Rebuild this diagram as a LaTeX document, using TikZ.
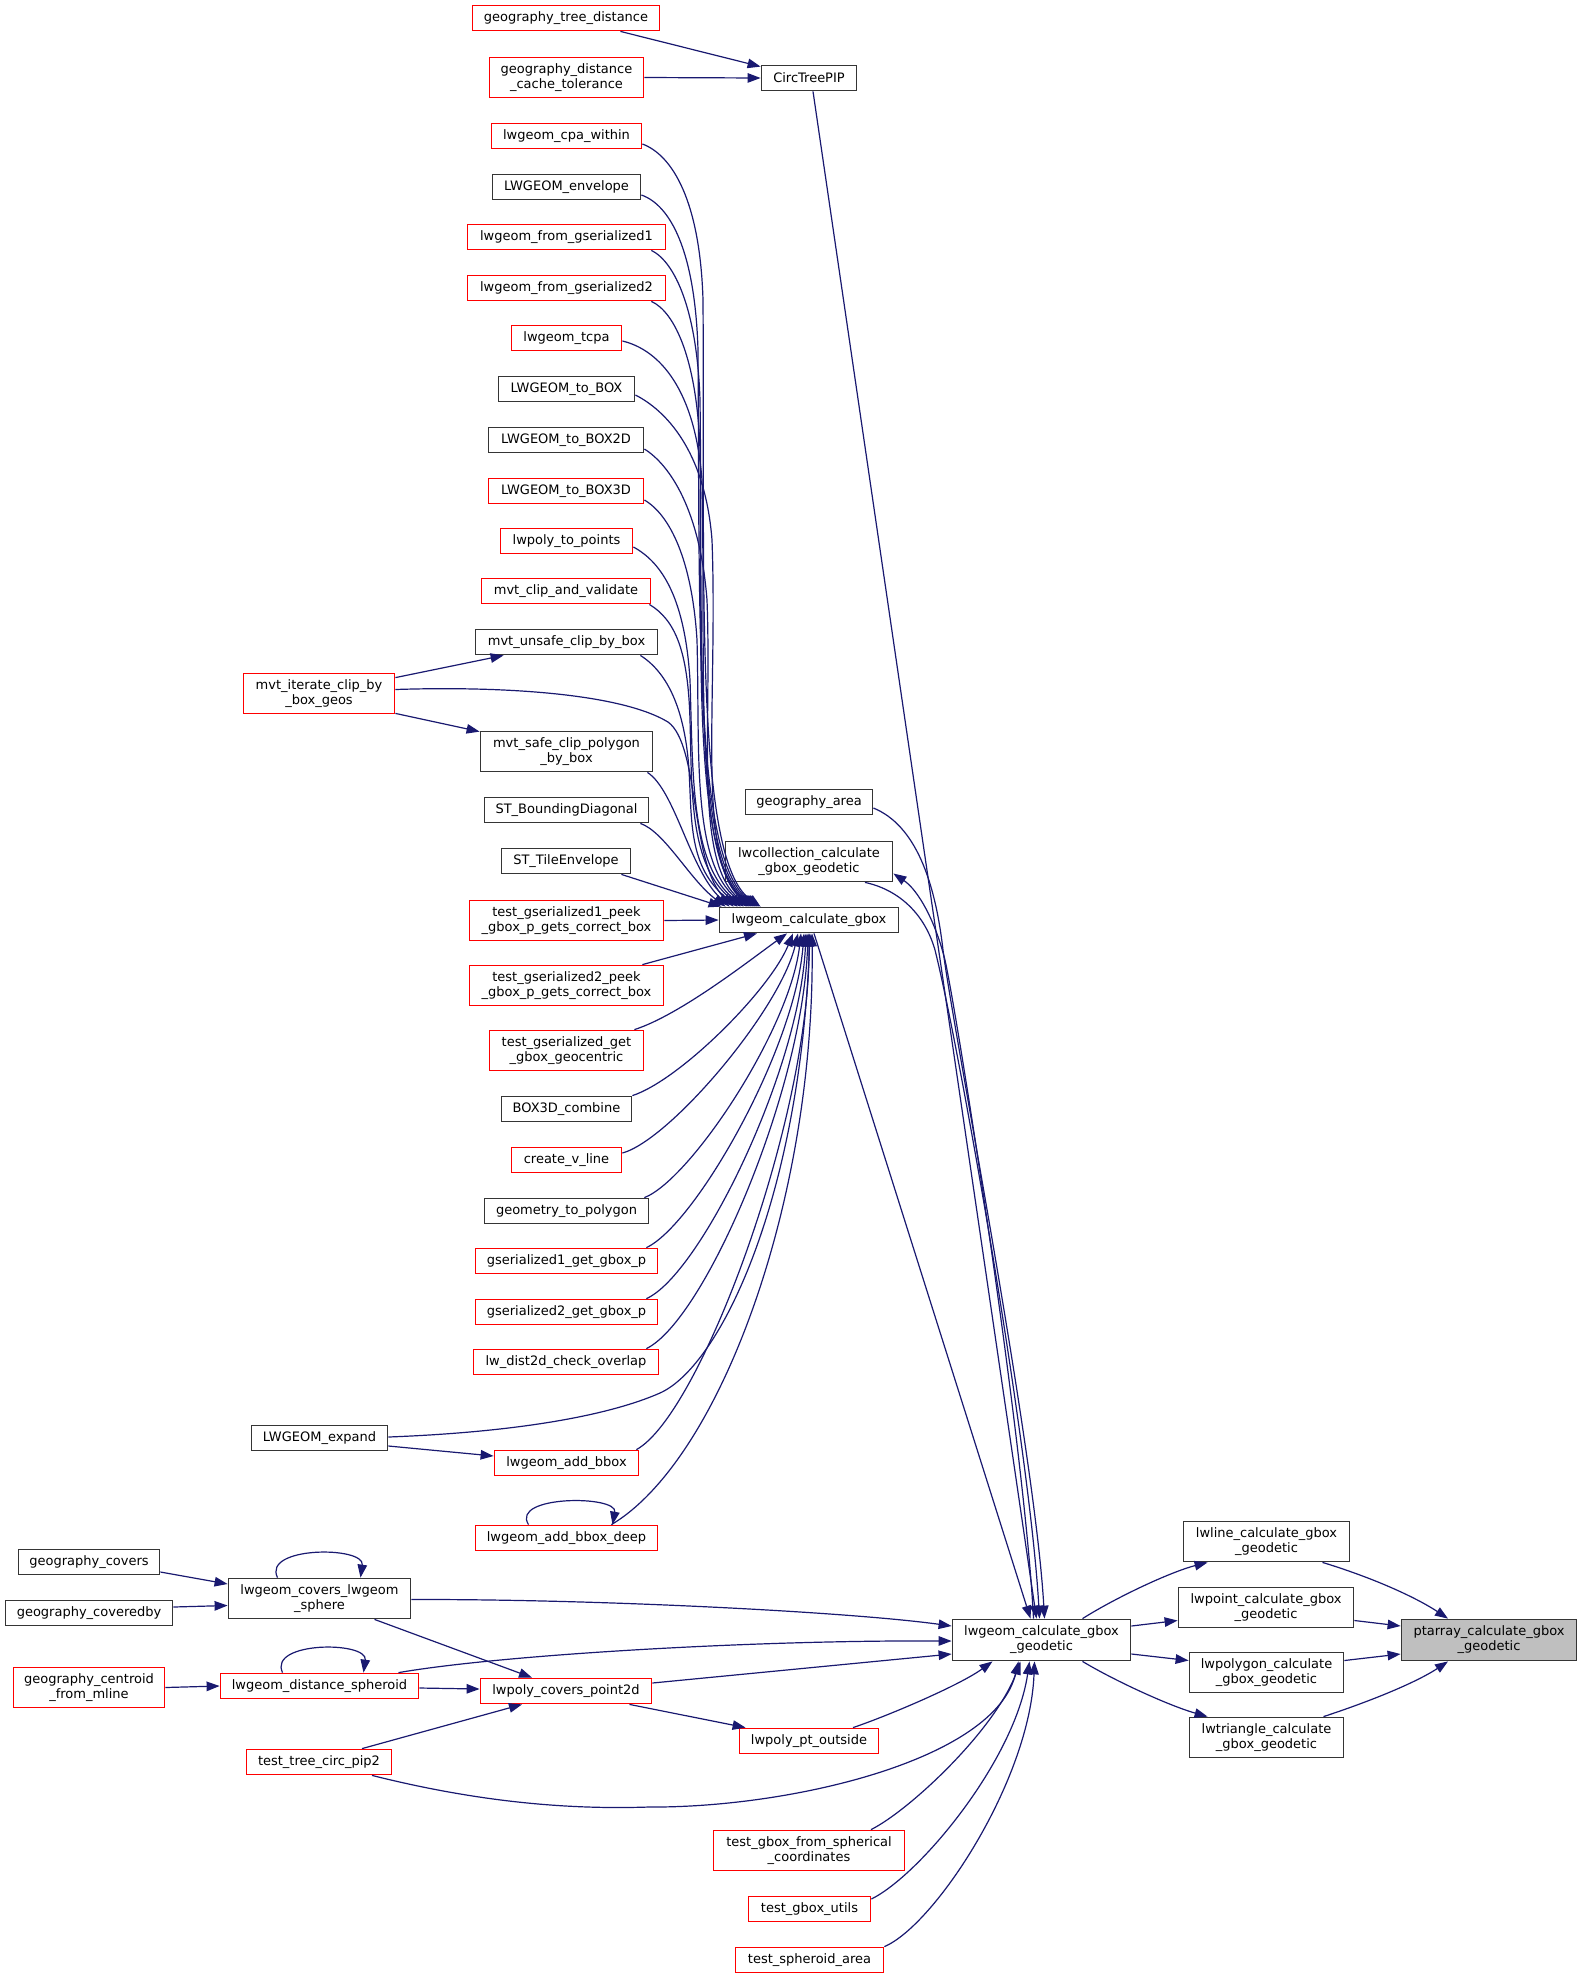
\documentclass[tikz,border=0pt]{standalone}
\usepackage{fontspec}
\setmainfont{DejaVu Sans}
\usetikzlibrary{arrows.meta}
\definecolor{navyc}{HTML}{191970}
\definecolor{bordg}{HTML}{353535}
\definecolor{fillg}{HTML}{BFBFBF}
\definecolor{redb}{HTML}{FF0000}
\newcommand\nodefont{\fontsize{13}{15}\selectfont}
\tikzset{
  box/.style={rectangle, fill=white, line width=1.8pt, inner sep=0pt, align=center, font=\nodefont},
  rb/.style={box, draw=redb},
  bb/.style={box, draw=bordg},
  gb/.style={box, draw=bordg, fill=fillg},
  sz/.style 2 args={minimum width=#1pt, minimum height=#2pt},
  edge/.style={draw=navyc, line width=1.2pt, -{Triangle[length=13pt,width=9.5pt]}}
}
\begin{document}
\begin{tikzpicture}[x=1pt,y=-1pt]
\fill[white] (0,0) rectangle (1581,1979);
\useasboundingbox (0,0) rectangle (1581,1979);
% column nodes
\node[rb,sz={187}{25}] (gtd) at (566,18) {geography\_tree\_distance};
\node[rb,sz={154}{40}] (gdct) at (566.5,77.5) {geography\_distance\\\_cache\_tolerance};
\node[bb,sz={95}{25}] (circ) at (809,78) {CircTreePIP};
\node[rb,sz={150}{25}] (cpa) at (566.5,136) {lwgeom\_cpa\_within};
\node[bb,sz={148}{25}] (env) at (566.5,187) {LWGEOM\_envelope};
\node[rb,sz={198}{25}] (fg1) at (566.5,237) {lwgeom\_from\_gserialized1};
\node[rb,sz={198}{25}] (fg2) at (566.5,288) {lwgeom\_from\_gserialized2};
\node[rb,sz={110}{25}] (tcpa) at (566.5,338) {lwgeom\_tcpa};
\node[bb,sz={136}{25}] (tobox) at (566.5,389) {LWGEOM\_to\_BOX};
\node[bb,sz={155}{25}] (tobox2d) at (566,440) {LWGEOM\_to\_BOX2D};
\node[rb,sz={155}{25}] (tobox3d) at (566,491) {LWGEOM\_to\_BOX3D};
\node[rb,sz={132}{25}] (topoints) at (566.5,541) {lwpoly\_to\_points};
\node[rb,sz={169}{25}] (mvtcv) at (566,591) {mvt\_clip\_and\_validate};
\node[bb,sz={182}{25}] (mvtun) at (566.5,642) {mvt\_unsafe\_clip\_by\_box};
\node[rb,sz={151}{40}] (mvtit) at (319,693.5) {mvt\_iterate\_clip\_by\\\_box\_geos};
\node[bb,sz={172}{40}] (mvtsafe) at (566.5,751.5) {mvt\_safe\_clip\_polygon\\\_by\_box};
\node[bb,sz={164}{25}] (stbd) at (566.5,810) {ST\_BoundingDiagonal};
\node[bb,sz={129}{25}] (stte) at (566,861) {ST\_TileEnvelope};
\node[rb,sz={194}{40}] (tg1) at (566.5,920.5) {test\_gserialized1\_peek\\\_gbox\_p\_gets\_correct\_box};
\node[rb,sz={194}{40}] (tg2) at (566.5,985.5) {test\_gserialized2\_peek\\\_gbox\_p\_gets\_correct\_box};
\node[rb,sz={154}{40}] (tgg) at (566.5,1050.5) {test\_gserialized\_get\\\_gbox\_geocentric};
\node[bb,sz={130}{25}] (box3d) at (566.5,1109) {BOX3D\_combine};
\node[rb,sz={110}{25}] (cvl) at (566.5,1160) {create\_v\_line};
\node[bb,sz={164}{25}] (g2p) at (566.5,1211) {geometry\_to\_polygon};
\node[rb,sz={182}{25}] (gs1) at (566.5,1261) {gserialized1\_get\_gbox\_p};
\node[rb,sz={182}{25}] (gs2) at (566.5,1312) {gserialized2\_get\_gbox\_p};
\node[rb,sz={185}{25}] (lwd) at (566,1362) {lw\_dist2d\_check\_overlap};
\node[bb,sz={136}{25}] (lwexp) at (319.5,1438) {LWGEOM\_expand};
\node[rb,sz={144}{25}] (addbbox) at (566.5,1463) {lwgeom\_add\_bbox};
\node[rb,sz={182}{25}] (addbboxdeep) at (566.5,1538) {lwgeom\_add\_bbox\_deep};
\node[bb,sz={141}{25}] (gcov) at (89,1562) {geography\_covers};
\node[bb,sz={167}{25}] (gcovby) at (89,1613) {geography\_coveredby};
\node[bb,sz={182}{40}] (covsphere) at (319.5,1598.5) {lwgeom\_covers\_lwgeom\\\_sphere};
\node[rb,sz={151}{40}] (gcent) at (89,1687.5) {geography\_centroid\\\_from\_mline};
\node[rb,sz={198}{25}] (distsph) at (319.5,1686) {lwgeom\_distance\_spheroid};
\node[rb,sz={171}{25}] (covpt) at (566,1691) {lwpoly\_covers\_point2d};
\node[rb,sz={139}{25}] (ptout) at (809,1741) {lwpoly\_pt\_outside};
\node[rb,sz={145}{25}] (tpip2) at (319,1762) {test\_tree\_circ\_pip2};
\node[rb,sz={191}{40}] (tsph) at (809,1850.5) {test\_gbox\_from\_spherical\\\_coordinates};
\node[rb,sz={122}{25}] (tutils) at (809.5,1909) {test\_gbox\_utils};
\node[rb,sz={148}{25}] (tarea) at (809.5,1960) {test\_spheroid\_area};
\node[bb,sz={127}{25}] (garea) at (809,802) {geography\_area};
\node[bb,sz={167}{40}] (lwcoll) at (809,861.5) {lwcollection\_calculate\\\_gbox\_geodetic};
\node[bb,sz={179}{25}] (lcg) at (809,920) {lwgeom\_calculate\_gbox};
\node[bb,sz={178}{41}] (geod) at (1041.5,1640) {lwgeom\_calculate\_gbox\\\_geodetic};
\node[bb,sz={166}{40}] (lwline) at (1266.5,1541.5) {lwline\_calculate\_gbox\\\_geodetic};
\node[bb,sz={175}{40}] (lwpoint) at (1266,1607.5) {lwpoint\_calculate\_gbox\\\_geodetic};
\node[bb,sz={154}{40}] (lwpolygon) at (1266.5,1672.5) {lwpolygon\_calculate\\\_gbox\_geodetic};
\node[bb,sz={154}{40}] (lwtriangle) at (1266.5,1737.5) {lwtriangle\_calculate\\\_gbox\_geodetic};
\node[gb,sz={175}{41}] (ptarray) at (1489,1640) {ptarray\_calculate\_gbox\\\_geodetic};

% CircTreePIP
\draw[edge] ([xshift=-40pt]gtd.south east) -- ([yshift=-2pt]circ.north west);
\draw[edge] (gdct.east) -- (circ.west);
\draw[edge] ([xshift=4pt]circ.south) -- ([xshift=-5pt]geod.north);

% top group into lwgeom_calculate_gbox
\draw[edge] ([yshift=-8pt]cpa.east) .. controls (672,155) and (700,200) .. (703,300) .. controls (705,580) and (694,860) .. ([xshift=42pt]lcg.north west);
\draw[edge] ([yshift=-8pt]env.east) .. controls (670,205) and (695,250) .. (698,350) .. controls (700,600) and (693,860) .. ([xshift=40pt]lcg.north west);
\draw[edge] ([xshift=-15pt]fg1.south east) .. controls (675,262) and (697,310) .. (700,400) .. controls (703,630) and (692,860) .. ([xshift=38pt]lcg.north west);
\draw[edge] ([xshift=-15pt]fg2.south east) .. controls (675,312) and (697,360) .. (700,450) .. controls (702,655) and (692,860) .. ([xshift=36pt]lcg.north west);
\draw[edge] ([yshift=-3pt]tcpa.east) .. controls (660,350) and (695,390) .. (702,480) .. controls (706,670) and (693,860) .. ([xshift=34pt]lcg.north west);
\draw[edge] ([yshift=-6pt]tobox.east) .. controls (665,410) and (705,450) .. (712,540) .. controls (718,700) and (696,860) .. ([xshift=32pt]lcg.north west);
\draw[edge] ([yshift=-9pt]tobox2d.east) .. controls (670,465) and (700,510) .. (707,600) .. controls (712,730) and (694,862) .. ([xshift=30pt]lcg.north west);
\draw[edge] ([yshift=-9pt]tobox3d.east) .. controls (670,515) and (692,560) .. (697,640) .. controls (700,750) and (691,862) .. ([xshift=28pt]lcg.north west);
\draw[edge] ([yshift=-6pt]topoints.east) .. controls (663,563) and (685,600) .. (690,680) .. controls (693,770) and (690,864) .. ([xshift=25pt]lcg.north west);
\draw[edge] ([xshift=-2pt]mvtcv.south east) .. controls (675,620) and (688,650) .. (690,720) .. controls (692,790) and (689,865) .. ([xshift=22pt]lcg.north west);
\draw[edge] ([xshift=-18pt]mvtun.south east) .. controls (668,673) and (685,710) .. (689,770) .. controls (692,820) and (688,868) .. ([xshift=19pt]lcg.north west);
\draw[edge] ([yshift=4pt]mvtit.east) .. controls (500,686) and (620,693) .. (668,722) .. controls (700,745) and (690,865) .. ([xshift=15pt]lcg.north west);
\draw[edge] ([xshift=-6pt]mvtsafe.south east) .. controls (675,790) and (690,870) .. ([xshift=11pt]lcg.north west);
\draw[edge] ([xshift=-9pt]stbd.south east) .. controls (665,832) and (690,880) .. ([xshift=7pt]lcg.north west);
\draw[edge] ([xshift=-10pt]stte.south east) -- ([xshift=3pt]lcg.north west);
\draw[edge] ([yshift=-5pt]mvtit.north east) -- ([xshift=29pt]mvtun.south west);
\draw[edge] ([yshift=1pt]mvtit.south east) -- ([yshift=-1pt]mvtsafe.north west);
\draw[edge] (tg1.east) -- (lcg.west);

% bottom group into lwgeom_calculate_gbox
\draw[edge] ([xshift=-22pt]tg2.north east) -- ([xshift=-52pt]lcg.south);
\draw[edge] ([xshift=-10pt]tgg.north east) .. controls (680,1015) and (750,960) .. ([xshift=-22pt]lcg.south);
\draw[edge] (box3d.north east) .. controls (680,1080) and (770,990) .. ([xshift=-16pt]lcg.south);
\draw[edge] ([yshift=7pt]cvl.east) .. controls (670,1140) and (780,1010) .. ([xshift=-11pt]lcg.south);
\draw[edge] ([xshift=-5pt]g2p.north east) .. controls (690,1180) and (790,1030) .. ([xshift=-8pt]lcg.south);
\draw[edge] ([xshift=-12pt]gs1.north east) .. controls (695,1225) and (795,1050) .. ([xshift=-5pt]lcg.south);
\draw[edge] ([xshift=-12pt]gs2.north east) .. controls (700,1275) and (800,1070) .. ([xshift=-3pt]lcg.south);
\draw[edge] ([xshift=-13pt]lwd.north east) .. controls (705,1320) and (803,1090) .. ([xshift=-1pt]lcg.south);
\draw[edge] ([yshift=1pt]lwexp.east) .. controls (520,1432) and (610,1415) .. (660,1393) .. controls (720,1366) and (800,1200) .. ([xshift=1pt]lcg.south);
\draw[edge] ([yshift=-8pt]lwexp.east) -- ([yshift=7pt]addbbox.west);
\draw[edge] ([xshift=-3pt]addbbox.north east) .. controls (700,1415) and (810,1120) .. (lcg.south);
\draw[edge] ([xshift=-47pt]addbboxdeep.north east) .. controls (720,1460) and (815,1200) .. ([xshift=3pt]lcg.south);
\draw[edge] ([xshift=-38pt]addbboxdeep.north) .. controls (510,1495) and (618,1495) .. ([xshift=46pt]addbboxdeep.north);

% into lwgeom_calculate_gbox_geodetic
\draw[edge] ([xshift=5pt]lcg.south) -- ([xshift=-11pt]geod.north);
\draw[edge] ([yshift=-6pt]garea.east) .. controls (915,825) and (935,880) .. (943,950) .. controls (953,1030) and (1035,1450) .. ([xshift=3pt]geod.north);
\draw[edge] ([xshift=56pt]lwcoll.south) .. controls (900,890) and (925,915) .. (935,950) .. controls (960,1050) and (1030,1450) .. ([xshift=-2pt]geod.north);
\draw[edge] ([xshift=-8pt]geod.north) .. controls (1025,1450) and (960,1030) .. (945,960) .. controls (935,920) and (918,890) .. ([yshift=-12pt]lwcoll.east);

% left region
\draw[edge] ([yshift=-10pt]gcov.east) -- ([yshift=14.5pt]covsphere.west);
\draw[edge] ([yshift=6pt]gcovby.east) -- ([yshift=-7pt]covsphere.west);
\draw[edge] ([xshift=-42pt]covsphere.north) .. controls (262,1546) and (365,1546) .. ([xshift=41pt]covsphere.north);
\draw[edge] ([yshift=-1pt]covsphere.east) .. controls (600,1599) and (850,1612) .. ([yshift=14pt]geod.west);
\draw[edge] ([xshift=55pt]covsphere.south) -- ([xshift=-34pt]covpt.north);
\draw[edge] (gcent.east) -- (distsph.west);
\draw[edge] ([xshift=-37pt]distsph.north) .. controls (268,1641) and (368,1641) .. ([xshift=44pt]distsph.north);
\draw[edge] ([xshift=79pt]distsph.north) .. controls (500,1655) and (750,1640) .. ([yshift=-1pt]geod.west);
\draw[edge] ([yshift=-2pt]distsph.east) -- ([yshift=2pt]covpt.west);
\draw[edge] ([yshift=8pt]covpt.east) -- ([yshift=-14pt]geod.west);
\draw[edge] ([xshift=63.5pt]covpt.south) -- ([xshift=7pt]ptout.north west);
\draw[edge] ([xshift=44pt]ptout.north) .. controls (890,1715) and (960,1685) .. ([xshift=-49pt]geod.south);
\draw[edge] ([xshift=43pt]tpip2.north) -- ([xshift=-44pt]covpt.south);
\draw[edge] ([xshift=53pt]tpip2.south) .. controls (470,1800) and (560,1810) .. (649,1807) .. controls (790,1808) and (995,1760) .. ([xshift=-23pt]geod.south);
\draw[edge] ([xshift=62pt]tsph.north) .. controls (910,1810) and (995,1730) .. ([xshift=-21pt]geod.south);
\draw[edge] ([yshift=10pt]tutils.east) .. controls (920,1875) and (1015,1760) .. ([xshift=-12pt]geod.south);
\draw[edge] (tarea.north east) .. controls (935,1925) and (1030,1780) .. ([xshift=-7pt]geod.south);

% right region
\draw[edge] ([xshift=41pt]geod.north) .. controls (1115,1598) and (1170,1572) .. ([xshift=25pt]lwline.south west);
\draw[edge] ([yshift=14pt]geod.east) -- ([yshift=-13pt]lwpoint.west);
\draw[edge] ([yshift=-14pt]geod.east) -- ([yshift=12pt]lwpolygon.west);
\draw[edge] ([xshift=41pt]geod.south) .. controls (1115,1681) and (1170,1706) .. ([xshift=19pt]lwtriangle.north west);
\draw[edge] ([xshift=56pt]lwline.south) .. controls (1380,1580) and (1420,1600) .. ([xshift=-41pt]ptarray.north);
\draw[edge] ([yshift=-13pt]lwpoint.east) -- ([yshift=14pt]ptarray.west);
\draw[edge] ([yshift=12pt]lwpolygon.east) -- ([yshift=-14pt]ptarray.west);
\draw[edge] ([xshift=57pt]lwtriangle.north) .. controls (1380,1698) and (1420,1680) .. ([xshift=-41pt]ptarray.south);
\end{tikzpicture}
\end{document}
